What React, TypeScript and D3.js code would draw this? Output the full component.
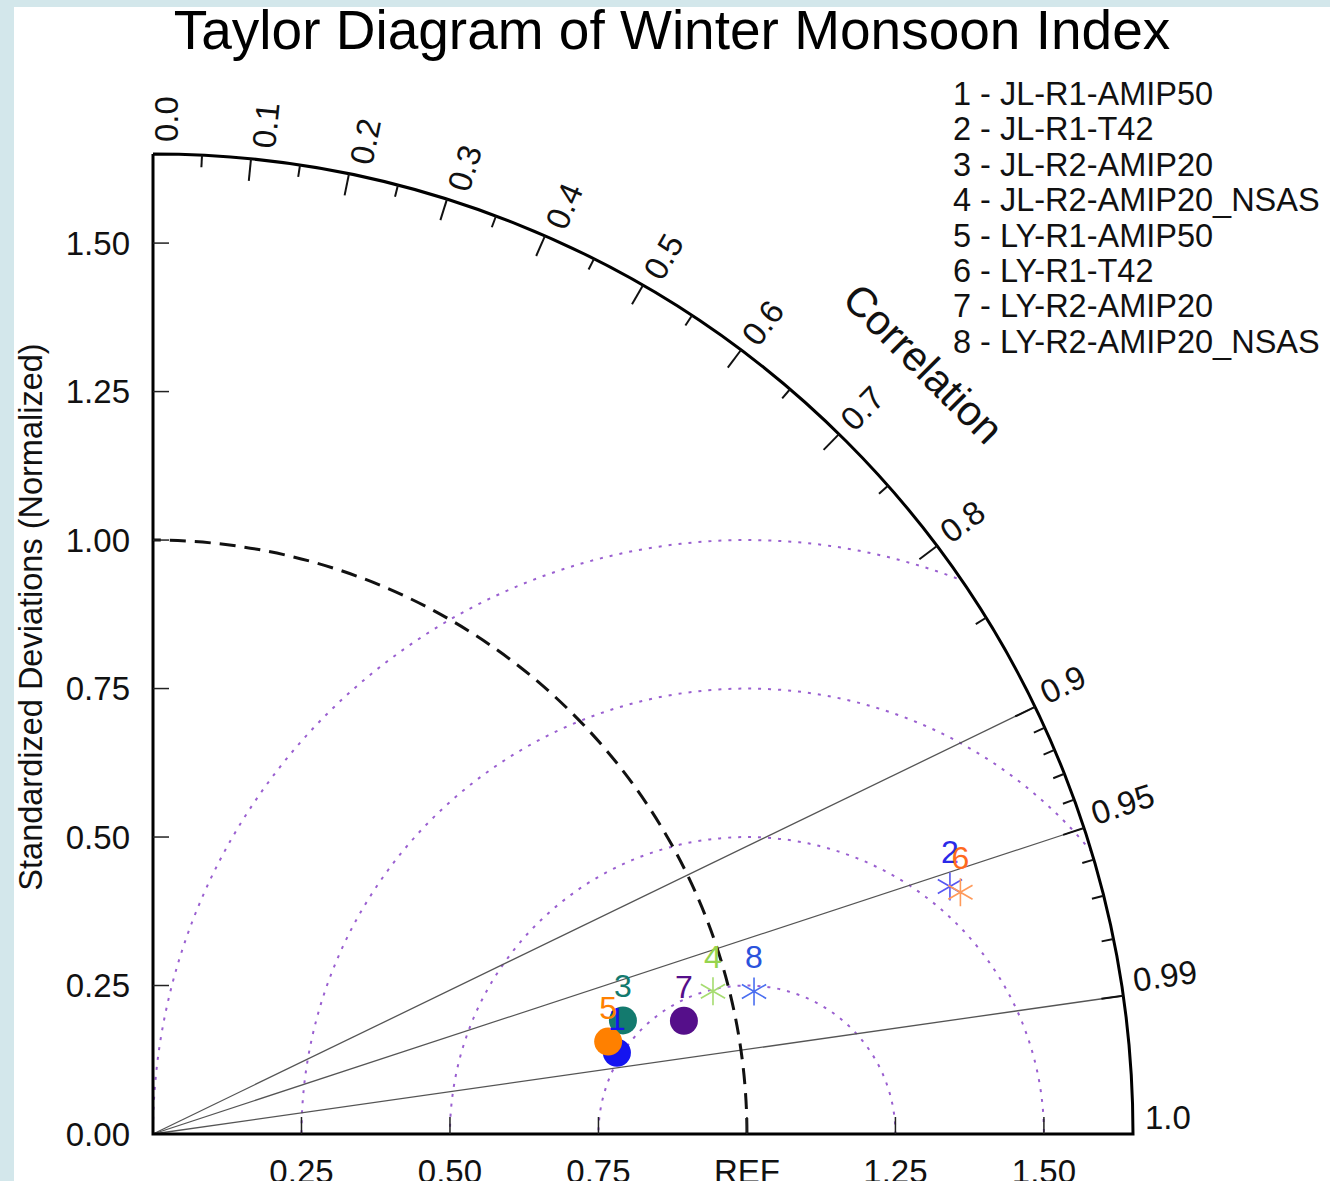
import React, { useEffect } from "react";
import * as d3 from "d3";

const TITLE = "Taylor Diagram of Winter Monsoon Index";
const Y_LABEL = "Standardized Deviations (Normalized)";
const CORR_LABEL = "Correlation";

const caseNames = [
  "JL-R1-AMIP50",
  "JL-R1-T42",
  "JL-R2-AMIP20",
  "JL-R2-AMIP20_NSAS",
  "LY-R1-AMIP50",
  "LY-R1-T42",
  "LY-R2-AMIP20",
  "LY-R2-AMIP20_NSAS",
];
const caseStd = [0.793, 1.405, 0.814, 0.973, 0.782, 1.419, 0.914, 1.04];
const caseCorr = [0.985, 0.955, 0.972, 0.969, 0.98, 0.958, 0.978, 0.973];
const caseMarker = ["circle", "star", "circle", "star", "circle", "star", "circle", "star"];
const caseColor = ["#1414f0", "#2a2ae8", "#137a6e", "#96d44e", "#ff8000", "#ff6a1e", "#550f8a", "#2a52dc"];
const caseMarkerColor = ["#1414f0", "#5656f2", "#137a6e", "#a6dc70", "#ff8000", "#ff9a5a", "#550f8a", "#4a6ef0"];

const stdTicks = [0.25, 0.5, 0.75, 1.0, 1.25, 1.5];
const stdTickLabels = ["0.25", "0.50", "0.75", "REF", "1.25", "1.50"];
const yTickValues = [0.0, 0.25, 0.5, 0.75, 1.0, 1.25, 1.5];
const yTickLabels = ["0.00", "0.25", "0.50", "0.75", "1.00", "1.25", "1.50"];
const corrMajor = [0.0, 0.1, 0.2, 0.3, 0.4, 0.5, 0.6, 0.7, 0.8, 0.9, 0.95, 0.99, 1.0];
const corrMajorLabels = ["0.0", "0.1", "0.2", "0.3", "0.4", "0.5", "0.6", "0.7", "0.8", "0.9", "0.95", "0.99", "1.0"];
const corrMinor = [0.05, 0.15, 0.25, 0.35, 0.45, 0.55, 0.65, 0.75, 0.85, 0.91, 0.92, 0.93, 0.94, 0.96, 0.97, 0.98];
const radialLines = [0.9, 0.95, 0.99];
const rmsCircles = [0.25, 0.5, 0.75, 1.0];
const MAX_STD = 1.65;

const W = 1330;
const H = 1181;
const OX = 153;
const OY = 1134;
const FONT = "'Liberation Sans', Arial, Helvetica, sans-serif";

export default function App() {
  useEffect(() => {
    document.body.style.margin = "0";
  }, []);

  const s = d3.scaleLinear().domain([0, MAX_STD]).range([0, 980]);
  const R = s(MAX_STD);
  const pt = (r: number, theta: number): [number, number] => [OX + s(r) * Math.cos(theta), OY - s(r) * Math.sin(theta)];
  const pxAt = (rpx: number, theta: number): [number, number] => [OX + rpx * Math.cos(theta), OY - rpx * Math.sin(theta)];

  const frame = d3.path();
  frame.moveTo(OX, OY - R);
  frame.lineTo(OX, OY);
  frame.lineTo(OX + R, OY);
  frame.arc(OX, OY, R, 0, -Math.PI / 2, true);

  const sector = d3.path();
  sector.moveTo(OX, OY);
  sector.lineTo(OX + R, OY);
  sector.arc(OX, OY, R, 0, -Math.PI / 2, true);
  sector.closePath();

  const refArc = d3.path();
  refArc.moveTo(OX + s(1), OY);
  refArc.arc(OX, OY, s(1), 0, -Math.PI / 2, true);

  const asterisk = (x: number, y: number, h: number) => {
    const p = d3.path();
    [90, 30, -30].forEach((a) => {
      const t = (a * Math.PI) / 180;
      p.moveTo(x - h * Math.cos(t), y - h * Math.sin(t));
      p.lineTo(x + h * Math.cos(t), y + h * Math.sin(t));
    });
    return p.toString();
  };

  return (
    <svg width={W} height={H} style={{ position: "absolute", left: 0, top: 0, display: "block" }} fontFamily={FONT}>
      <rect x={0} y={0} width={W} height={H} fill="#d3e7eb" />
      <rect x={14} y={7} width={W - 14} height={H - 7} fill="#ffffff" />
      <defs>
        <clipPath id="sectorClip">
          <path d={sector.toString()} />
        </clipPath>
      </defs>

      <text x={672} y={49} fontSize={55} textAnchor="middle" fill="#000">{TITLE}</text>

      <g clipPath="url(#sectorClip)">
        {rmsCircles.map((c, i) => (
          <circle key={i} cx={OX + s(1)} cy={OY} r={s(c)} fill="none" stroke="#9a5fd0" strokeWidth={2} strokeDasharray="3 7" />
        ))}
      </g>

      {radialLines.map((c, i) => {
        const [x, y] = pxAt(R, Math.acos(c));
        return <line key={i} x1={OX} y1={OY} x2={x} y2={y} stroke="#555" strokeWidth={1.3} />;
      })}

      <path d={refArc.toString()} fill="none" stroke="#111" strokeWidth={3} strokeDasharray="16 9" />

      <path d={frame.toString()} fill="none" stroke="#000" strokeWidth={3} strokeLinejoin="miter" />

      {stdTicks.map((v, i) => (
        <g key={"xt" + i}>
          <line x1={OX + s(v)} y1={OY} x2={OX + s(v)} y2={OY - 17} stroke="#222" strokeWidth={1.5} />
          <text x={OX + s(v)} y={1183} fontSize={33} textAnchor="middle" fill="#111">{stdTickLabels[i]}</text>
        </g>
      ))}
      {yTickValues.map((v, i) => (
        <g key={"yt" + i}>
          {v > 0 && <line x1={OX} y1={OY - s(v)} x2={OX + 16} y2={OY - s(v)} stroke="#222" strokeWidth={1.5} />}
          <text x={130} y={OY - s(v)} dy="0.36em" fontSize={33} textAnchor="end" fill="#111">{yTickLabels[i]}</text>
        </g>
      ))}

      {corrMajor.filter((c) => c > 0 && c < 1).map((c, i) => {
        const t = Math.acos(c);
        const [x1, y1] = pxAt(R, t);
        const [x2, y2] = pxAt(R - 22, t);
        return <line key={"cM" + i} x1={x1} y1={y1} x2={x2} y2={y2} stroke="#111" strokeWidth={2} />;
      })}
      {corrMinor.map((c, i) => {
        const t = Math.acos(c);
        const [x1, y1] = pxAt(R, t);
        const [x2, y2] = pxAt(R - 12, t);
        return <line key={"cm" + i} x1={x1} y1={y1} x2={x2} y2={y2} stroke="#111" strokeWidth={2} />;
      })}
      {corrMajor.map((c, i) => {
        const t = Math.acos(c);
        const [x, y] = pxAt(R + 12, t);
        const deg = (t * 180) / Math.PI;
        const down = -17 + 30 * (deg / 90);
        return (
          <g key={"cl" + i} transform={`translate(${x} ${y}) rotate(${-deg})`}>
            <text x={0} y={down} dy="0.36em" fontSize={33} fill="#111" textAnchor="start">
              {corrMajorLabels[i]}
            </text>
          </g>
        );
      })}
      {(() => {
        const t = Math.PI / 4;
        const [x, y] = pxAt(1090, t);
        return (
          <text x={x} y={y} dy="0.36em" fontSize={42} textAnchor="middle" fill="#111" transform={`rotate(45 ${x} ${y})`}>
            {CORR_LABEL}
          </text>
        );
      })()}

      <text x={30} y={617} dy="0.36em" fontSize={32.5} textAnchor="middle" fill="#111" transform={`rotate(-90 30 617)`}>
        {Y_LABEL}
      </text>

      {caseNames.map((n, i) => {
        const [x, y] = pt(caseStd[i], Math.acos(caseCorr[i]));
        return caseMarker[i] === "circle" ? (
          <circle key={"m" + i} cx={x} cy={y} r={14} fill={caseMarkerColor[i]} />
        ) : (
          <path key={"m" + i} d={asterisk(x, y, 14)} stroke={caseMarkerColor[i]} strokeWidth={1.6} fill="none" />
        );
      })}
      {caseNames.map((n, i) => {
        const [x, y] = pt(caseStd[i], Math.acos(caseCorr[i]));
        return (
          <text key={"ml" + i} x={x} y={y - 23} fontSize={32} textAnchor="middle" fill={caseColor[i]}>
            {String(i + 1)}
          </text>
        );
      })}

      {caseNames.map((n, i) => (
        <text key={"lg" + i} x={953} y={105 + i * 35.4} fontSize={32.5} fill="#111">
          {`${i + 1} - ${n}`}
        </text>
      ))}
    </svg>
  );
}
